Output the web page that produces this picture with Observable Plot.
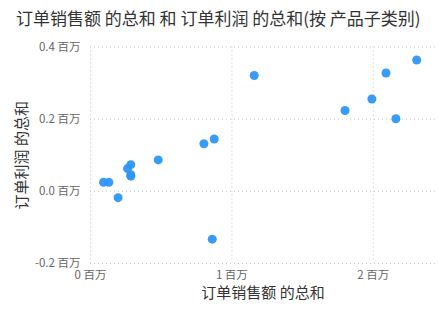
<!DOCTYPE html>
<html><head><meta charset="utf-8">
<script src="https://cdn.jsdelivr.net/npm/d3@7"></script>
<script src="https://cdn.jsdelivr.net/npm/@observablehq/plot@0.6"></script>
<style>
body{margin:0;background:#fff;font-family:"Noto Sans CJK SC","Noto Sans",sans-serif;}
#title{height:34px;line-height:36px;padding-left:16px;font-size:17px;color:#333;white-space:nowrap;}
</style></head><body>
<div id="title"></div>
<div id="chart"></div>
<script>
const titleText = "订单销售额 的总和 和 订单利润 的总和(按 产品子类别)";
const xLabel = "订单销售额 的总和";
const yLabel = "订单利润 的总和";
// values in millions
const sales  = [1.158, 2.307, 2.09, 1.99, 1.80, 2.16, 0.875, 0.802, 0.479, 0.285, 0.262, 0.285, 0.285, 0.092, 0.13, 0.195, 0.861];
const profit = [0.321, 0.364, 0.328, 0.256, 0.224, 0.201, 0.145, 0.132, 0.087, 0.074, 0.063, 0.046, 0.042, 0.025, 0.025, -0.0175, -0.1325];
const xTicks = [0, 1, 2];
const yTicks = [-0.2, 0, 0.2, 0.4];
const data = sales.map((s, i) => ({sales: s, profit: profit[i]}));
const unit = " 百万";
document.getElementById("title").textContent = titleText;

const plot = Plot.plot({
  width: 438,
  height: 275,
  marginLeft: 90,
  marginRight: 3,
  marginTop: 12.5,
  marginBottom: 46,
  style: {fontFamily: '"Noto Sans CJK SC","Noto Sans",sans-serif', background: "#fff"},
  x: {domain: [0, 2.44], label: null},
  y: {domain: [-0.2, 0.4], label: null},
  marks: [
    Plot.gridX(xTicks, {stroke: "#c8c8c8", strokeOpacity: 1, strokeDasharray: "1,3"}),
    Plot.gridY(yTicks, {stroke: "#c8c8c8", strokeOpacity: 1, strokeDasharray: "1,3"}),
    Plot.axisX(xTicks, {tickSize: 0, tickPadding: 7, fontSize: 11.5, fill: "#666", tickFormat: d => d + unit, label: null}),
    Plot.axisY(yTicks, {tickSize: 0, tickPadding: 10, fontSize: 11.5, fill: "#666", tickFormat: d => d3.format(".1f")(d).replace("−", "-") + unit, label: null}),
    Plot.dot(data, {x: "sales", y: "profit", r: 4.5, fill: "#2D96F5", fillOpacity: 0.95, stroke: "none"}),
    Plot.text([xLabel], {text: d => d, frameAnchor: "bottom", dy: 34, fontSize: 15, fill: "#333"}),
    Plot.text([yLabel], {text: d => d, frameAnchor: "left", textAnchor: "middle", dx: -68, rotate: -90, fontSize: 15, fill: "#333"})
  ]
});
document.getElementById("chart").appendChild(plot);
</script>
</body></html>
